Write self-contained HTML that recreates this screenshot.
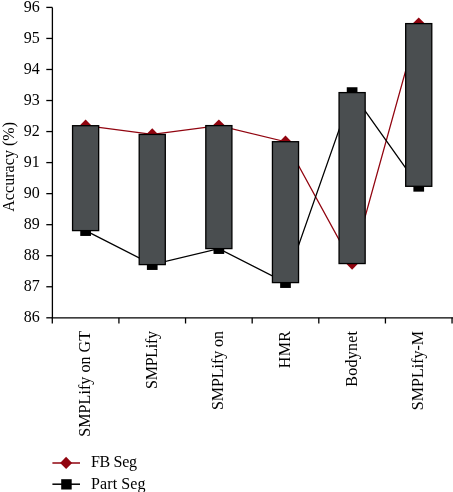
<!DOCTYPE html>
<html><head><meta charset="utf-8"><style>
html,body{margin:0;padding:0;background:#fff;width:453px;height:492px;overflow:hidden}
svg{display:block;will-change:transform}
text{font-family:"Liberation Serif",serif;font-size:16px;fill:#000}
</style></head><body>
<svg width="453" height="492" viewBox="0 0 453 492">
<polyline points="85.61,125.70 152.24,134.45 218.86,125.60 285.49,141.70 352.11,263.55 418.74,23.60" fill="none" stroke="#91040f" stroke-width="1.3"/>
<polyline points="85.61,230.60 152.24,264.60 218.86,248.60 285.49,282.60 352.11,92.60 418.74,186.30" fill="none" stroke="#000000" stroke-width="1.3"/>
<path d="M85.61,119.60 L91.71,125.70 L85.61,131.80 L79.51,125.70 Z" fill="#91040f"/>
<path d="M152.24,128.35 L158.34,134.45 L152.24,140.55 L146.14,134.45 Z" fill="#91040f"/>
<path d="M218.86,119.50 L224.96,125.60 L218.86,131.70 L212.76,125.60 Z" fill="#91040f"/>
<path d="M285.49,135.60 L291.59,141.70 L285.49,147.80 L279.39,141.70 Z" fill="#91040f"/>
<path d="M352.11,257.45 L358.21,263.55 L352.11,269.65 L346.01,263.55 Z" fill="#91040f"/>
<path d="M418.74,17.50 L424.84,23.60 L418.74,29.70 L412.64,23.60 Z" fill="#91040f"/>
<rect x="80.26" y="225.25" width="10.70" height="10.70" fill="#000000"/>
<rect x="146.89" y="259.25" width="10.70" height="10.70" fill="#000000"/>
<rect x="213.51" y="243.25" width="10.70" height="10.70" fill="#000000"/>
<rect x="280.14" y="277.25" width="10.70" height="10.70" fill="#000000"/>
<rect x="346.76" y="87.25" width="10.70" height="10.70" fill="#000000"/>
<rect x="413.39" y="180.95" width="10.70" height="10.70" fill="#000000"/>
<rect x="72.56" y="125.70" width="26.10" height="104.90" fill="#4a4e50" stroke="#000" stroke-width="1.3"/>
<rect x="139.19" y="134.45" width="26.10" height="130.15" fill="#4a4e50" stroke="#000" stroke-width="1.3"/>
<rect x="205.81" y="125.60" width="26.10" height="123.00" fill="#4a4e50" stroke="#000" stroke-width="1.3"/>
<rect x="272.44" y="141.70" width="26.10" height="140.90" fill="#4a4e50" stroke="#000" stroke-width="1.3"/>
<rect x="339.06" y="92.60" width="26.10" height="170.95" fill="#4a4e50" stroke="#000" stroke-width="1.3"/>
<rect x="405.69" y="23.60" width="26.10" height="162.70" fill="#4a4e50" stroke="#000" stroke-width="1.3"/>
<path d="M52.4,7.4 V317.8 H453" fill="none" stroke="#000" stroke-width="1.3"/>
<path d="M46.3,317.80 H52.4" stroke="#000" stroke-width="1.3"/>
<text x="39.8" y="322.00" text-anchor="end">86</text>
<path d="M46.3,286.76 H52.4" stroke="#000" stroke-width="1.3"/>
<text x="39.8" y="290.96" text-anchor="end">87</text>
<path d="M46.3,255.72 H52.4" stroke="#000" stroke-width="1.3"/>
<text x="39.8" y="259.92" text-anchor="end">88</text>
<path d="M46.3,224.68 H52.4" stroke="#000" stroke-width="1.3"/>
<text x="39.8" y="228.88" text-anchor="end">89</text>
<path d="M46.3,193.64 H52.4" stroke="#000" stroke-width="1.3"/>
<text x="39.8" y="197.84" text-anchor="end">90</text>
<path d="M46.3,162.60 H52.4" stroke="#000" stroke-width="1.3"/>
<text x="39.8" y="166.80" text-anchor="end">91</text>
<path d="M46.3,131.56 H52.4" stroke="#000" stroke-width="1.3"/>
<text x="39.8" y="135.76" text-anchor="end">92</text>
<path d="M46.3,100.52 H52.4" stroke="#000" stroke-width="1.3"/>
<text x="39.8" y="104.72" text-anchor="end">93</text>
<path d="M46.3,69.48 H52.4" stroke="#000" stroke-width="1.3"/>
<text x="39.8" y="73.68" text-anchor="end">94</text>
<path d="M46.3,38.44 H52.4" stroke="#000" stroke-width="1.3"/>
<text x="39.8" y="42.64" text-anchor="end">95</text>
<path d="M46.3,7.40 H52.4" stroke="#000" stroke-width="1.3"/>
<text x="39.8" y="11.60" text-anchor="end">96</text>
<path d="M52.30,317.8 V323.5" stroke="#000" stroke-width="1.3"/>
<path d="M118.92,317.8 V323.5" stroke="#000" stroke-width="1.3"/>
<path d="M185.55,317.8 V323.5" stroke="#000" stroke-width="1.3"/>
<path d="M252.18,317.8 V323.5" stroke="#000" stroke-width="1.3"/>
<path d="M318.80,317.8 V323.5" stroke="#000" stroke-width="1.3"/>
<path d="M385.43,317.8 V323.5" stroke="#000" stroke-width="1.3"/>
<path d="M452.05,317.8 V323.5" stroke="#000" stroke-width="1.3"/>
<text transform="translate(90.01,331) rotate(-90)" text-anchor="end" textLength="105.7" lengthAdjust="spacing">SMPLify on GT</text>
<text transform="translate(156.64,331) rotate(-90)" text-anchor="end" textLength="57.9" lengthAdjust="spacing">SMPLify</text>
<text transform="translate(223.26,331) rotate(-90)" text-anchor="end" textLength="79.0" lengthAdjust="spacing">SMPLify on</text>
<text transform="translate(289.89,331) rotate(-90)" text-anchor="end" textLength="37.25" lengthAdjust="spacing">HMR</text>
<text transform="translate(356.51,331) rotate(-90)" text-anchor="end" textLength="55.8" lengthAdjust="spacing">Bodynet</text>
<text transform="translate(423.14,331) rotate(-90)" text-anchor="end" textLength="79.125" lengthAdjust="spacing">SMPLify-M</text>
<text transform="translate(13.7,166.85) rotate(-90)" text-anchor="middle" textLength="89.8" lengthAdjust="spacing">Accuracy (%)</text>
<path d="M52.4,463 H80" stroke="#91040f" stroke-width="1.5"/>
<path d="M66.1,456.8 L72.1,462.9 L66.1,469 L60.1,462.9 Z" fill="#91040f"/>
<text x="91" y="467.4" textLength="46.0" lengthAdjust="spacing">FB Seg</text>
<path d="M52.4,484.2 H80" stroke="#000000" stroke-width="1.5"/>
<rect x="61.2" y="479.2" width="10.5" height="10.3" fill="#000000"/>
<text x="91" y="488.9" textLength="54.5" lengthAdjust="spacing">Part Seg</text>
</svg>
</body></html>
